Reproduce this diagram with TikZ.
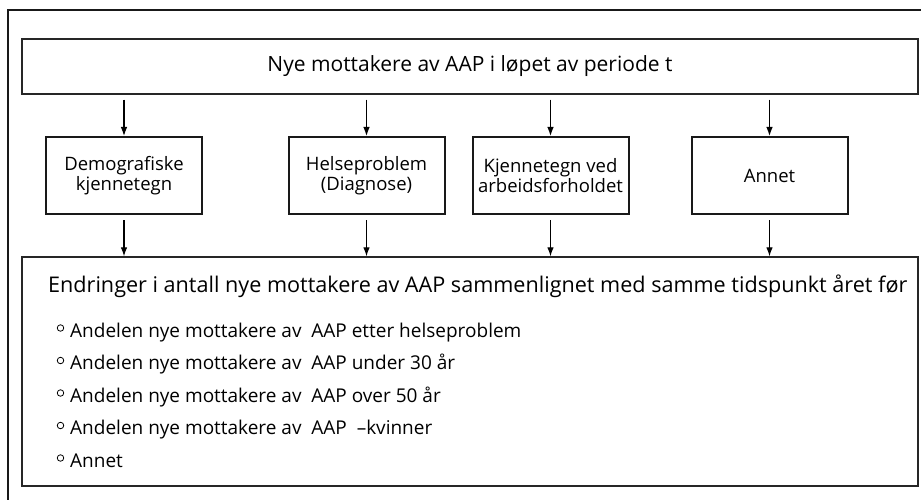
\documentclass[tikz,border=0pt]{standalone}
\usepackage{fontspec}
\setmainfont{Open Sans}
\usetikzlibrary{arrows.meta}
\begin{document}
\begin{tikzpicture}[x=1pt,y=-1pt,
  bigbox/.style={draw=black!85, line width=1.3pt, inner sep=0pt},
  midbox/.style={draw=black!90, line width=2pt, minimum width=156pt, minimum height=77pt,
    align=center, inner sep=1pt, font=\fontsize{18.5}{19.5}\selectfont},
  headtxt/.style={font=\fontsize{21.6}{23}\selectfont},
  toptxt/.style={font=\fontsize{21}{23}\selectfont},
  itemtxt/.style={anchor=base west, inner sep=0pt, font=\fontsize{19}{20}\selectfont},
  bul/.style={circle, draw=black, line width=0.8pt, minimum size=6.5pt, inner sep=0pt},
  arr/.style={-{Latex[length=9pt,width=6.5pt]}, line width=1.1pt}]
\useasboundingbox (0,0) rectangle (921,500);
% outer frame (only top and left edges visible)
\draw[line width=2.8pt, black!90] (8,520) -- (8,10) -- (940,10);
% top box
\node[bigbox, toptxt, minimum width=896pt, minimum height=55pt] (top) at (470,66.5)
  {Nye mottakere av AAP i løpet av periode t};
% middle boxes
\node[midbox] (d1) at (124,175.5) {Demografiske\\kjennetegn};
\node[midbox] (d2) at (366.5,175.5) {Helseproblem\\(Diagnose)};
\node[midbox] (d3) at (550.5,175.5) {Kjennetegn ved\\arbeidsforholdet};
\node[midbox] (d4) at (769.5,175.5) {Annet};
% bottom box
\node[bigbox, minimum width=896pt, minimum height=229pt] (bot) at (470,371.5) {};
\node[headtxt, anchor=base west, inner sep=0pt] (head) at (48,292)
  {Endringer i antall nye mottakere av AAP sammenlignet med samme tidspunkt året før};
\node[itemtxt] (i1) at (70,337) {Andelen nye mottakere av\ \ AAP etter helseproblem};
\node[itemtxt] (i2) at (70,369.5) {Andelen nye mottakere av\ \ AAP under 30 år};
\node[itemtxt] (i3) at (70,402) {Andelen nye mottakere av\ \ AAP over 50 år};
\node[itemtxt] (i4) at (70,434.5) {Andelen nye mottakere av\ \ AAP\ \ –kvinner};
\node[itemtxt] (i5) at (70,467) {Annet};
\foreach \i in {i1,i2,i3,i4,i5}{
  \node[bul] (b\i) at ([xshift=-9.5pt,yshift=9pt]\i.base west) {};
}
% arrows
\foreach \d in {d1,d2,d3,d4}{
  \draw[arr, shorten <=5pt] (\d.north |- top.south) -- (\d.north);
  \draw[arr, shorten <=5pt] (\d.south) -- (\d.south |- bot.north);
}
\end{tikzpicture}
\end{document}
